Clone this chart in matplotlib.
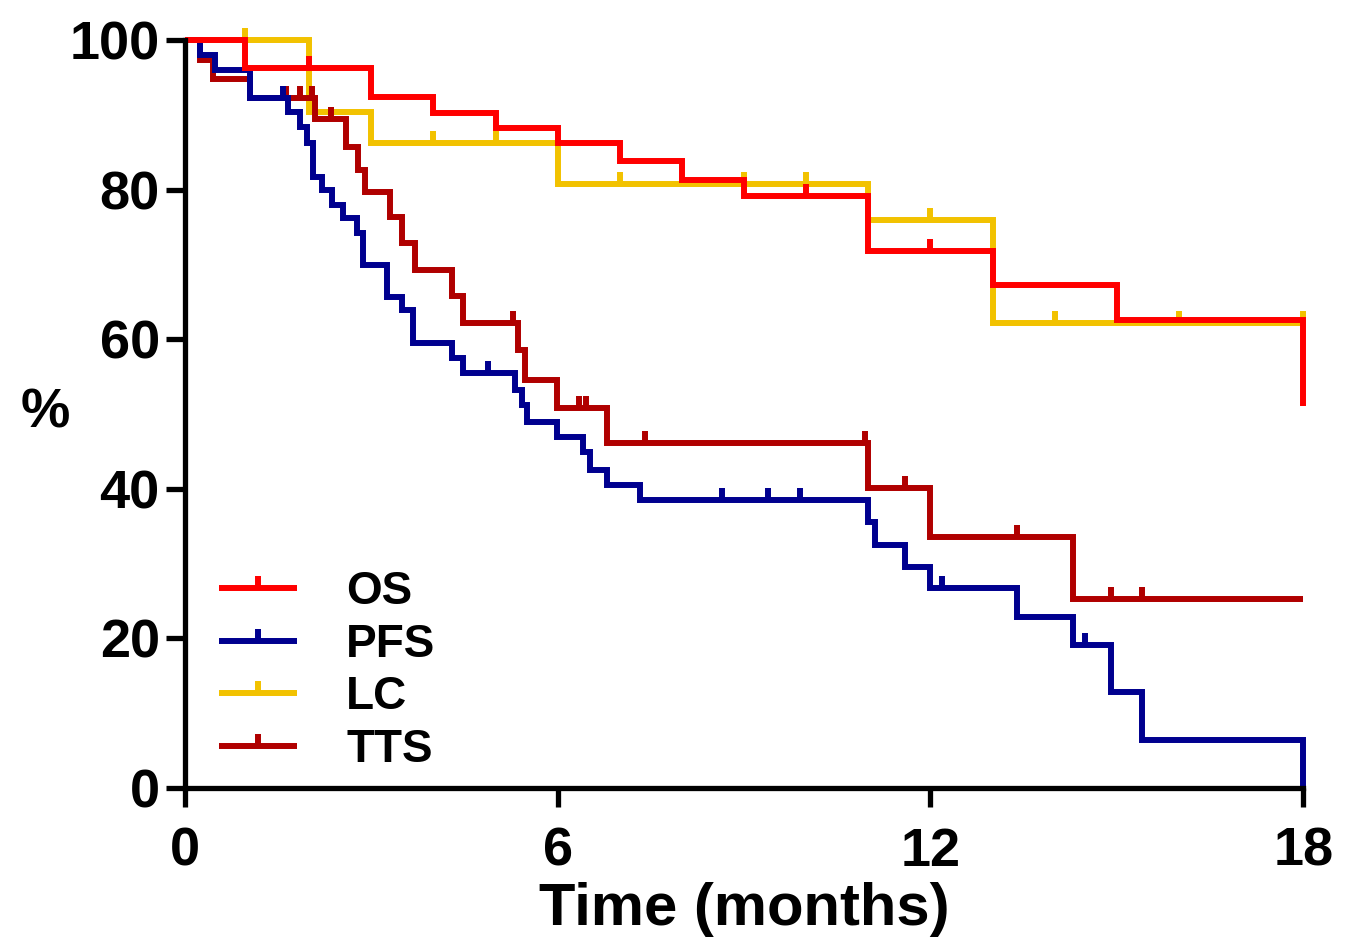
import numpy as np
import matplotlib
matplotlib.use("Agg")
import matplotlib.pyplot as plt
from matplotlib.path import Path
from matplotlib.lines import Line2D

plt.rcParams['font.family'] = ['Liberation Sans', 'DejaVu Sans']
plt.rcParams['font.weight'] = 'bold'

# ---- data (Kaplan-Meier step curves, % surviving) ----
os_t = [0, 0.97, 3.0, 4.0, 5.0, 6.0, 7.0, 8.0, 9.0, 11.0, 13.0, 15.0, 18.0]
os_s = [100, 96.3, 92.4, 90.3, 88.2, 86.2, 83.8, 81.3, 79.1, 71.8, 67.2, 62.6, 51.1]
os_c = [2.0, 10.0, 12.0]

pfs_t = [0, 0.24, 0.48, 1.05, 1.66, 1.85, 1.96, 2.06, 2.21, 2.37, 2.54, 2.77, 2.87,
         3.25, 3.49, 3.67, 4.30, 4.48, 5.31, 5.43, 5.51, 5.99, 6.41, 6.52, 6.79, 7.33,
         11.0, 11.11, 11.59, 12.0, 13.4, 14.3, 14.9, 15.4, 18.0]
pfs_s = [100, 98.0, 96.0, 92.2, 90.4, 88.4, 86.2, 81.7, 79.9, 77.9, 76.2, 74.2, 69.9,
         65.6, 63.9, 59.5, 57.5, 55.5, 53.2, 51.2, 48.9, 46.9, 44.9, 42.5, 40.5, 38.5,
         35.6, 32.5, 29.5, 26.7, 22.9, 19.1, 12.8, 6.4, 0]
pfs_c = [1.58, 4.88, 8.65, 9.39, 9.9, 12.19, 14.49]

lc_t = [0, 2.0, 3.0, 6.0, 11.0, 13.0, 18.0]
lc_s = [100, 90.4, 86.2, 80.7, 75.9, 62.2, 62.2]
lc_c = [0.97, 4.0, 5.0, 7.0, 9.0, 10.0, 12.0, 14.0, 16.0, 18.0]

tts_t = [0, 0.24, 0.45, 1.05, 2.1, 2.6, 2.78, 2.9, 3.3, 3.5, 3.7, 4.3, 4.48, 5.36,
         5.47, 5.99, 6.79, 11.0, 12.0, 14.3, 18.0]
tts_s = [100, 97.3, 94.8, 92.2, 89.4, 85.7, 82.6, 79.7, 76.3, 72.9, 69.3, 65.8, 62.2,
         58.6, 54.5, 50.8, 46.1, 40.1, 33.6, 25.3, 25.3]
tts_c = [1.63, 1.85, 2.05, 2.35, 5.28, 6.35, 6.45, 7.4, 10.95, 11.59, 13.4, 14.9, 15.4]

labels = ['OS', 'PFS', 'LC', 'TTS']
colors = ['#FF0000', '#00008F', '#F2C200', '#B00000']
x_ticks = [0, 6, 12, 18]
y_ticks = [0, 20, 40, 60, 80, 100]

series = [(os_t, os_s, os_c), (pfs_t, pfs_s, pfs_c), (lc_t, lc_s, lc_c), (tts_t, tts_s, tts_c)]
zorders = [6, 5, 3, 4]

tick_marker = Path([(0, 0), (0, 1)], [Path.MOVETO, Path.LINETO])
LW = 4.3
MS = 17

fig = plt.figure(figsize=(13.59, 9.44), dpi=100)
ax = fig.add_axes([0.136, 0.1653, 0.823, 0.7923])

handles = []
for (t, s, c), lab, col, z in zip(series, labels, colors, zorders):
    t = np.asarray(t, float); s = np.asarray(s, float); c = np.asarray(c, float)
    ax.step(t, s, where='post', color=col, lw=LW, zorder=z, clip_on=False,
            solid_joinstyle='miter', solid_capstyle='butt')
    idx = np.searchsorted(t, c, side='right') - 1
    ax.plot(c, s[idx], ls='none', marker=tick_marker, ms=MS, mew=LW, mec=col,
            zorder=z, clip_on=False)
    handles.append(Line2D([], [], color=col, lw=LW, marker=tick_marker, ms=MS,
                          mew=LW, mec=col, solid_capstyle='butt'))

ax.set_xlim(0, 18)
ax.set_ylim(0, 100)
ax.set_xticks(x_ticks)
ax.set_yticks(y_ticks)
for sp in ['top', 'right']:
    ax.spines[sp].set_visible(False)
for sp in ['left', 'bottom']:
    ax.spines[sp].set_linewidth(3.8)
    ax.spines[sp].set_zorder(10)
ax.tick_params(axis='both', direction='out', length=14, width=3.8, labelsize=39)
ax.tick_params(axis='y', pad=4)
ax.tick_params(axis='x', pad=14)
for lbl in ax.get_xticklabels() + ax.get_yticklabels():
    lbl.set_fontweight('bold')

ax.set_xlabel('Time (months)', fontsize=43, fontweight='bold', labelpad=4)
ax.set_ylabel('%', fontsize=40, fontweight='bold', rotation=0, va='center')
ax.yaxis.set_label_coords(-0.125, 0.5)

leg = ax.legend(handles, labels, loc='upper left', bbox_to_anchor=(0.0145, 0.316),
                frameon=False, fontsize=33, handlelength=1.7, handletextpad=1.07,
                labelspacing=0.19, borderaxespad=0)
for txt in leg.get_texts():
    txt.set_fontweight('bold')

fig.savefig('out.png', dpi=100, facecolor='white')
